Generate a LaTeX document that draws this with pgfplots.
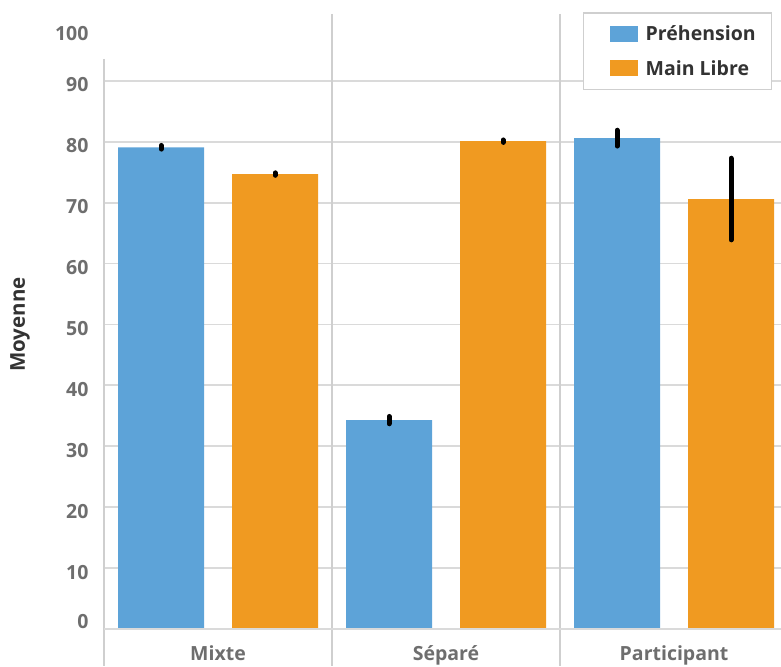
\documentclass[border=0pt]{standalone}
\usepackage{fontspec}
\setmainfont{Open Sans}
\usepackage{pgfplots}
\pgfplotsset{compat=1.18}
\definecolor{cblue}{HTML}{5DA3D8}
\definecolor{corange}{HTML}{F09A21}
\definecolor{gridc}{HTML}{DADADA}
\definecolor{sepc}{HTML}{CFCFCF}
\definecolor{tickc}{HTML}{6E6E6E}
\definecolor{txtc}{HTML}{333333}
\begin{document}
\begin{tikzpicture}
\begin{axis}[
  scale only axis, width=677pt, height=609pt,
  xmin=-0.5, xmax=2.469, ymin=0, ymax=100,
  ybar, bar width=86pt,
  xtick={0,1,2}, xticklabels={Mixte,Séparé,Participant},
  ytick={0,10,...,90}, extra y ticks={100}, extra y tick style={grid=none},
  ymajorgrids, grid style={gridc, line width=1.8pt},
  axis line style={draw=none}, major tick length=0pt,
  tick label style={font=\fontsize{19.5}{22}\selectfont\bfseries, text=tickc},
  /pgf/number format/assume math mode=true,
  yticklabel={\pgfmathparse{\tick<0.5 ? 7 : (\tick>99.5 ? -14 : -4)}\raisebox{\pgfmathresult pt}[\height][\depth]{\pgfmathprintnumber{\tick}}},
  yticklabel style={xshift=-12pt},
  xticklabel style={yshift=-13pt},
  ylabel={Moyenne},
  ylabel style={font=\fontsize{20.5}{22}\selectfont\bfseries, text=txtc, at={(axis description cs:0,0.5)}, anchor=center, yshift=84pt},
  clip=false,
  legend style={at={(axis description cs:0.7075,1.013)}, anchor=north west,
    draw=sepc, line width=1.5pt, font=\fontsize{19.5}{22}\selectfont\bfseries, text=txtc,
    inner xsep=14pt, inner ysep=11pt, row sep=14pt, cells={anchor=west}},
  legend image code/.code={\path (-12pt,0); \fill[#1, draw=none] (0pt,-8pt) rectangle (28pt,8pt); \path (34pt,0);},
  error bars/error bar style={line width=5pt, line cap=round, black},
  error bars/error mark=none,
]
\addplot[fill=cblue, draw=none, bar shift=-57pt,
  error bars/.cd, y dir=both, y explicit]
  coordinates {(0,79.1) +- (0,0.3) (1,34.3) +- (0,0.6) (2,80.6) +- (0,1.3)};
\addplot[fill=corange, draw=none, bar shift=57pt,
  error bars/.cd, y dir=both, y explicit]
  coordinates {(0,74.7) +- (0,0.2) (1,80.1) +- (0,0.2) (2,70.6) +- (0,6.7)};
\legend{Préhension, Main Libre}
\draw[sepc, line width=2.2pt] (axis cs:-0.5,93.6) -- ([yshift=-37pt]axis cs:-0.5,0);
\draw[sepc, line width=2.2pt] (axis cs:0.5,101) -- ([yshift=-37pt]axis cs:0.5,0);
\draw[sepc, line width=2.2pt] (axis cs:1.5,101) -- ([yshift=-37pt]axis cs:1.5,0);
\draw[gridc, line width=2.2pt] (axis cs:-0.5,0) -- (axis cs:2.469,0);
\end{axis}
\pgfresetboundingbox
\useasboundingbox (-104pt,-37pt) rectangle (677pt,629pt);
\end{tikzpicture}
\end{document}
